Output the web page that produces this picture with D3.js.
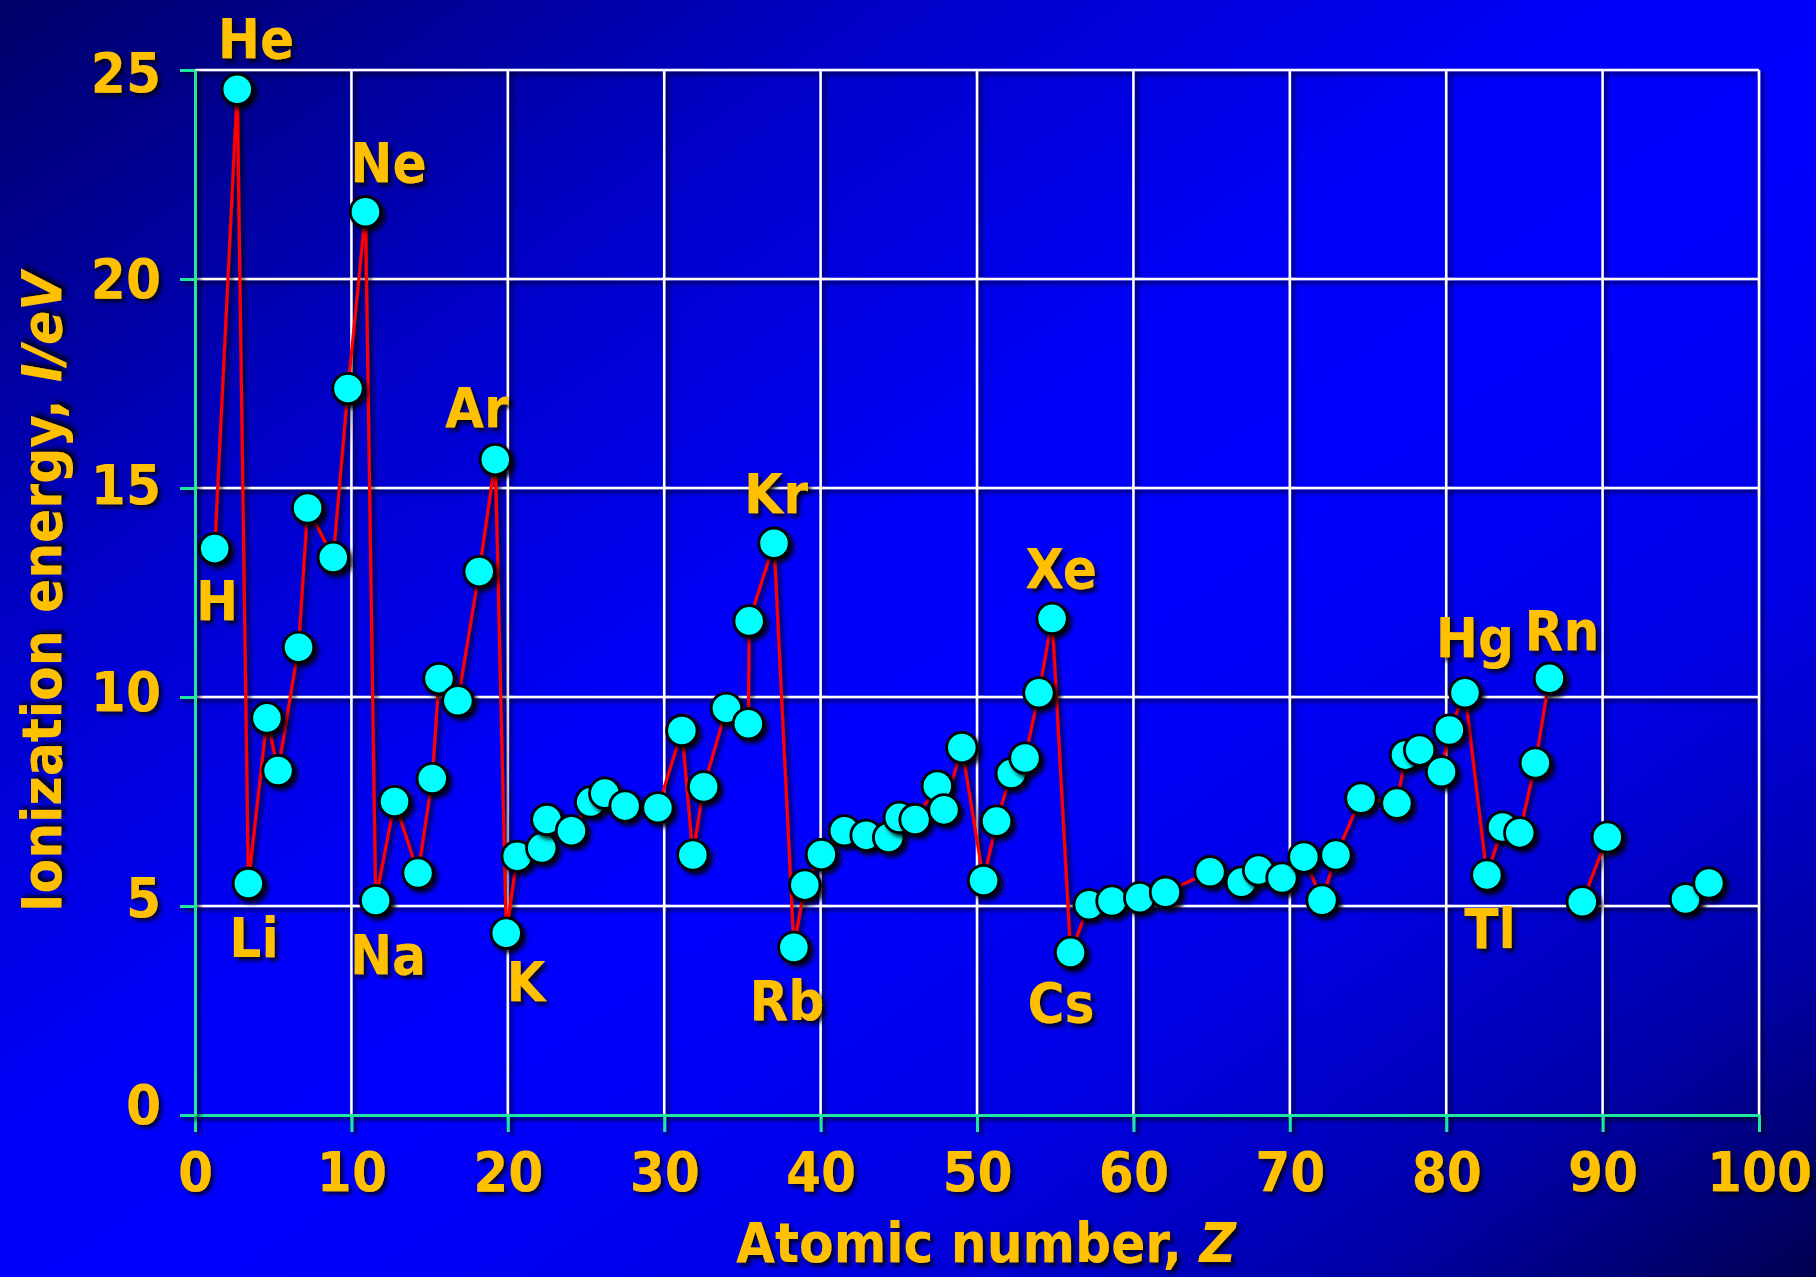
<!DOCTYPE html>
<html>
<head>
<meta charset="utf-8">
<script src="https://cdn.jsdelivr.net/npm/d3@7"></script>
<style>
  html, body { margin: 0; padding: 0; background: #0000ff; }
  svg { display: block; }
</style>
</head>
<body>
<svg id="chart" width="1816" height="1277"></svg>
<script>
// ---- Data ----
// Horizontal position of each plotted point (atomic number, Z)
const atomicPos = [1.26, 2.7, 3.41, 4.6, 5.31, 6.62, 7.2, 8.84, 9.78, 10.9,
  11.55, 12.76, 14.26, 15.17, 15.6, 16.81, 18.17, 19.2, 19.9, 20.6,
  22.17, 22.5, 24.07, 25.3, 26.2, 27.5, 29.6, 31.13, 31.83, 32.52,
  33.98, 35.38, 35.43, 37.02, 38.29, 38.99, 40.05, 41.52, 42.91, 44.35,
  45.03, 46.04, 47.46, 47.89, 49.03, 50.42, 51.25, 52.19, 53.07, 53.96,
  54.8, 55.98, 57.17, 58.63, 60.4, 62.05, 64.9, 66.9, 68.0, 69.5,
  70.9, 72.06, 72.95, 74.55, 76.85, 77.4, 78.3, 79.7, 80.2, 81.2,
  82.6, 83.6, 84.7, 85.7, 86.6, 88.7, 90.3, 95.3, 96.8];
// Ionization energy, eV
const energy = [13.55, 24.54, 5.54, 9.50, 8.24, 11.19, 14.52, 13.34, 17.38, 21.61,
  5.13, 7.50, 5.79, 8.05, 10.44, 9.91, 13.0, 15.68, 4.35, 6.19,
  6.39, 7.07, 6.8, 7.49, 7.7, 7.39, 7.35, 9.20, 6.22, 7.85,
  9.73, 9.36, 11.82, 13.68, 4.01, 5.5, 6.23, 6.80, 6.69, 6.64,
  7.12, 7.07, 7.87, 7.30, 8.79, 5.61, 7.03, 8.17, 8.54, 10.10,
  11.88, 3.89, 5.03, 5.12, 5.20, 5.33, 5.82, 5.57, 5.86, 5.67,
  6.17, 5.14, 6.22, 7.58, 7.46, 8.61, 8.73, 8.21, 9.21, 10.1,
  5.74, 6.89, 6.75, 8.42, 10.45, 5.10, 6.65, 5.17, 5.55];
// Connected runs of points (first index, last index)
const lineRuns = [[0, 74], [75, 76], [77, 78]];

// Element labels and where they sit (in data units)
const labelSymbols = ["He", "Ne", "Ar", "Kr", "Xe", "Hg", "Rn", "H", "Li", "Na", "K", "Rb", "Cs", "Tl"];
const labelZ = [3.9, 12.37, 18.03, 37.15, 55.37, 81.84, 87.4, 1.41, 3.77, 12.34, 21.16, 37.85, 55.37, 82.8];
const labelE = [25.29, 22.32, 16.46, 14.40, 12.61, 10.96, 11.12, 11.84, 3.78, 3.37, 2.73, 2.27, 2.22, 4.0];

const xTicks = [0, 10, 20, 30, 40, 50, 60, 70, 80, 90, 100];
const yTicks = [0, 5, 10, 15, 20, 25];
const xTitle = "Atomic number, ";
const xTitleItalic = "Z";
const yTitle = "Ionization energy, ";
const yTitleItalic = "I/eV";

// ---- Drawing ----
const W = 1816, H = 1277;
const gold = "#ffc000";
const green = "#22e6a0";
const FONT = "'DejaVu Sans', Verdana, sans-serif";
const FS = 56;
const SX = 0.9;

const svg = d3.select("#chart");
const defs = svg.append("defs");

const grad = defs.append("linearGradient").attr("id", "bg")
  .attr("x1", 0).attr("y1", 0).attr("x2", 1).attr("y2", 1);
[[0, "#000068"], [0.25, "#0000c8"], [0.45, "#0000fa"], [0.55, "#0000ff"],
 [0.72, "#0000e6"], [0.87, "#0000a8"], [1, "#000050"]]
  .forEach(([o, c]) => grad.append("stop").attr("offset", o).attr("stop-color", c));

const fBig = defs.append("filter").attr("id", "shBig")
  .attr("filterUnits", "userSpaceOnUse")
  .attr("x", -400).attr("y", -400).attr("width", W + 800).attr("height", H + 800);
fBig.append("feDropShadow").attr("dx", 3).attr("dy", 3).attr("stdDeviation", 2)
  .attr("flood-color", "#000").attr("flood-opacity", 0.8);

const fObj = defs.append("filter").attr("id", "shObj")
  .attr("x", "-40%").attr("y", "-40%").attr("width", "190%").attr("height", "190%");
fObj.append("feDropShadow").attr("dx", 3.5).attr("dy", 3.5).attr("stdDeviation", 2.2)
  .attr("flood-color", "#000").attr("flood-opacity", 0.85);

svg.append("rect").attr("width", W).attr("height", H).attr("fill", "url(#bg)");

const x = d3.scaleLinear().domain([0, 100]).range([195, 1759]);
const y = d3.scaleLinear().domain([0, 25]).range([1115, 70]);

// gridlines
const grid = svg.append("g").attr("filter", "url(#shBig)");
grid.selectAll("line.v").data(xTicks.filter(d => d > 0)).join("line")
  .attr("x1", d => x(d)).attr("x2", d => x(d))
  .attr("y1", y(0)).attr("y2", y(25))
  .attr("stroke", "#ffffff").attr("stroke-width", 2.5);
grid.selectAll("line.h").data(yTicks.filter(d => d > 0)).join("line")
  .attr("x1", x(0)).attr("x2", x(100))
  .attr("y1", d => y(d)).attr("y2", d => y(d))
  .attr("stroke", "#ffffff").attr("stroke-width", 2.5);

// axes
const gx = svg.append("g")
  .attr("transform", `translate(0,${y(0)})`)
  .call(d3.axisBottom(x).tickValues(xTicks).tickSize(17).tickSizeOuter(0).tickFormat(d3.format("d")));
const gy = svg.append("g")
  .attr("transform", `translate(${x(0)},0)`)
  .call(d3.axisLeft(y).tickValues(yTicks).tickSize(15).tickSizeOuter(0).tickFormat(d3.format("d")));

[gx, gy].forEach(g => {
  g.attr("font-family", FONT).attr("font-size", FS).attr("font-weight", "bold")
   .attr("filter", "url(#shBig)");
  g.select(".domain").attr("stroke", green).attr("stroke-width", 3);
  g.selectAll(".tick line").attr("stroke", green).attr("stroke-width", 3);
  g.selectAll(".tick text").attr("fill", gold);
});
gx.selectAll(".tick text").attr("y", 76).attr("dy", null)
  .attr("transform", `scale(${SX},1)`);
// in the reference the lower y labels sit a little above their ticks
gy.selectAll(".tick text").attr("x", -34 / SX).attr("dy", "0.36em")
  .attr("y", d => -12 + 0.52 * d)
  .attr("transform", `scale(${SX},1)`);

// red connecting line
const pts = atomicPos.map((z, i) => [z, energy[i]]);
const lineGen = d3.line().x(d => x(d[0])).y(d => y(d[1]));
svg.append("g").attr("filter", "url(#shBig)")
  .selectAll("path").data(lineRuns).join("path")
  .attr("d", r => lineGen(pts.slice(r[0], r[1] + 1)))
  .attr("fill", "none").attr("stroke", "#ff0000").attr("stroke-width", 3.2)
  .attr("stroke-linejoin", "round");

// points
svg.append("g").selectAll("circle").data(pts).join("circle")
  .attr("cx", d => x(d[0])).attr("cy", d => y(d[1])).attr("r", 15.2)
  .attr("fill", "#00ffff").attr("stroke", "#000").attr("stroke-width", 2.8)
  .attr("filter", "url(#shObj)");

// element labels
svg.append("g").selectAll("text").data(labelSymbols).join("text")
  .attr("transform", (d, i) => `translate(${x(labelZ[i])},${y(labelE[i])}) scale(${SX},1)`)
  .attr("text-anchor", "middle")
  .attr("font-family", FONT).attr("font-size", FS).attr("font-weight", "bold")
  .attr("fill", gold).attr("filter", "url(#shObj)")
  .text(d => d);

// axis titles
const tx = svg.append("text")
  .attr("transform", `translate(986,1262) scale(${SX},1)`)
  .attr("text-anchor", "middle")
  .attr("font-family", FONT).attr("font-size", FS).attr("font-weight", "bold")
  .attr("fill", gold).attr("filter", "url(#shObj)");
tx.append("tspan").text(xTitle);
tx.append("tspan").attr("font-style", "italic").text(xTitleItalic);

const ty = svg.append("text")
  .attr("transform", `translate(61,592) rotate(-90) scale(${SX},1)`)
  .attr("text-anchor", "middle")
  .attr("font-family", FONT).attr("font-size", FS).attr("font-weight", "bold")
  .attr("fill", gold).attr("filter", "url(#shObj)");
ty.append("tspan").text(yTitle);
ty.append("tspan").attr("font-style", "italic").text(yTitleItalic);
</script>
</body>
</html>
